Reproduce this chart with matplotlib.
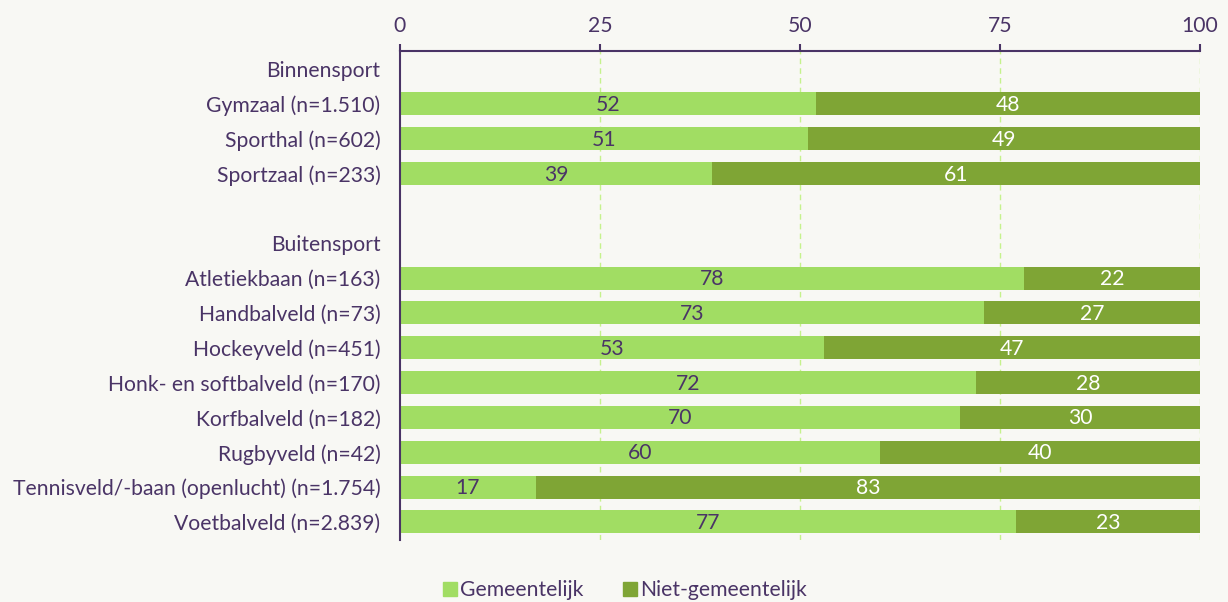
import matplotlib.pyplot as plt
from matplotlib.patches import Patch

plt.rcParams['font.family'] = ['Lato', 'DejaVu Sans']

# rows from top to bottom; None = group header without bar
labels = ['Binnensport', 'Gymzaal (n=1.510)', 'Sporthal (n=602)', 'Sportzaal (n=233)', '',
          'Buitensport', 'Atletiekbaan (n=163)', 'Handbalveld (n=73)', 'Hockeyveld (n=451)',
          'Honk- en softbalveld (n=170)', 'Korfbalveld (n=182)', 'Rugbyveld (n=42)',
          'Tennisveld/-baan (openlucht) (n=1.754)', 'Voetbalveld (n=2.839)']
gemeentelijk = [None, 52, 51, 39, None, None, 78, 73, 53, 72, 70, 60, 17, 77]
niet_gemeentelijk = [None, 48, 49, 61, None, None, 22, 27, 47, 28, 30, 40, 83, 23]
ticks = [0, 25, 50, 75, 100]

bg = '#f8f8f4'
purple = '#4a3466'
light = '#a1dd63'
dark = '#7fa535'
fs = 15.2

fig = plt.figure(figsize=(12.28, 6.02), dpi=100, facecolor=bg)
ax = fig.add_axes([400 / 1228, 1 - 540 / 602, 800 / 1228, 489 / 602])
ax.set_facecolor(bg)

for i, (g, n) in enumerate(zip(gemeentelijk, niet_gemeentelijk)):
    if g is None:
        continue
    ax.barh(i, g, height=0.66, color=light, zorder=2)
    ax.barh(i, n, left=g, height=0.66, color=dark, zorder=2)
    ax.text(g / 2, i + 0.03, str(g), ha='center', va='center', color=purple, fontsize=fs, zorder=3)
    ax.text(g + n / 2, i + 0.03, str(n), ha='center', va='center', color='white', fontsize=fs, zorder=3)

ax.set_xlim(0, 100)
ax.set_ylim(13.52, -0.52)
ax.set_yticks(range(len(labels)))
ax.set_yticklabels(labels)
ax.xaxis.tick_top()
ax.set_xticks(ticks)
ax.set_xticklabels([str(t) for t in ticks])
ax.tick_params(axis='x', colors=purple, labelcolor=purple, labelsize=fs, length=5, width=1.5, pad=6)
ax.tick_params(axis='y', length=0, labelcolor=purple, labelsize=fs, pad=14)
for t in ticks[1:]:
    ax.axvline(t, color='#c5f28c', linestyle=(0, (4, 3)), linewidth=1, zorder=1)

for s in ['right', 'bottom']:
    ax.spines[s].set_visible(False)
for s in ['left', 'top']:
    ax.spines[s].set_color(purple)
    ax.spines[s].set_linewidth(1.5)

handles = [Patch(color=light, label='Gemeentelijk'), Patch(color=dark, label='Niet-gemeentelijk')]
fig.legend(handles=handles, loc='center', bbox_to_anchor=(625 / 1228, 1 - 590 / 602), ncol=2,
           frameon=False, fontsize=fs, labelcolor=purple, handlelength=0.65, handleheight=0.65,
           handletextpad=0.15, columnspacing=1.9)

fig.savefig('out.png', dpi=100, facecolor=bg)
